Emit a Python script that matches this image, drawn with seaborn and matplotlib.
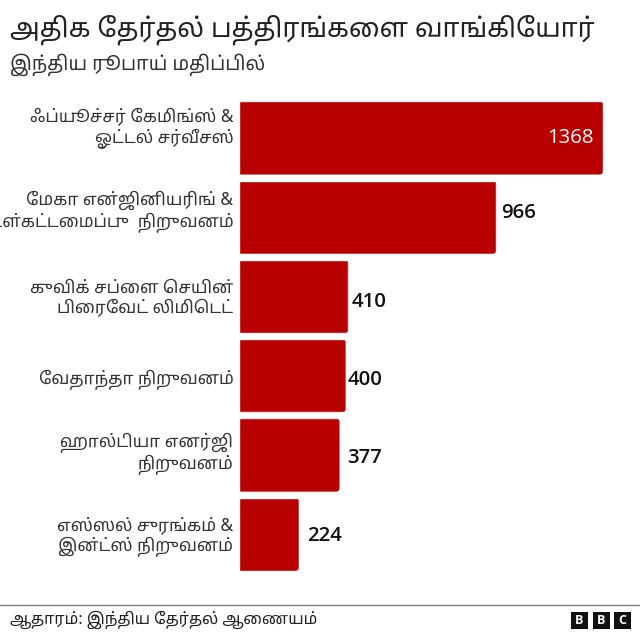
import unicodedata

import matplotlib

matplotlib.use("Agg")

import matplotlib.pyplot as plt
import pandas as pd
import seaborn as sns
from matplotlib.patches import FancyBboxPatch, Rectangle
from matplotlib.transforms import IdentityTransform

TITLE = "அதிக தேர்தல் பத்திரங்களை வாங்கியோர்"
SUBTITLE = "இந்திய ரூபாய் மதிப்பில்"
SOURCE = "ஆதாரம்: இந்திய தேர்தல் ஆணையம்"
LOGO = ["B", "B", "C"]

companies = [
    "ஃப்யூச்சர் கேமிங்ஸ் &\nஓட்டல் சர்வீசஸ்",
    "மேகா என்ஜினியரிங் &\nஉள்கட்டமைப்பு  நிறுவனம்",
    "குவிக் சப்ளை செயின்\nபிரைவேட் லிமிடெட்",
    "வேதாந்தா நிறுவனம்",
    "ஹால்டியா எனர்ஜி\nநிறுவனம்",
    "எஸ்ஸல் சுரங்கம் &\nஇன்ட்ஸ் நிறுவனம்",
]
amounts = [1368, 966, 410, 400, 377, 224]

# pixel nudges, the original labels are not evenly placed on the bars
label_dy = [10, 6, -1, -3, 2, -2]
value_dx = [-9, 5, 3, 2, 8, 8]
value_dy = [0, 4, -5, -4, -3, -2]

RED = "#b80000"
INK = "#222222"
TAMIL = ["Noto Sans Tamil", "Noto Sans"]
SIZE = 640
DPI = 100


def visual_order(text: str) -> str:
    # matplotlib does no shaping, so vowel signs drawn left of a consonant go first
    chars = list(unicodedata.normalize("NFD", text))
    for i in range(1, len(chars)):
        if chars[i] in "\u0bc6\u0bc7\u0bc8":
            chars[i - 1], chars[i] = chars[i], chars[i - 1]
    return "".join(chars)


def px(y: float) -> float:
    return 1 - y / SIZE


sns.set_theme(style="white")
plt.rcParams["font.family"] = TAMIL

df = pd.DataFrame({"company": [visual_order(c) for c in companies], "amount": amounts})

fig = plt.figure(figsize=(SIZE / DPI, SIZE / DPI), dpi=DPI)
ax = fig.add_axes([239.3 / SIZE, px(574), 400.7 / SIZE, (574 - 98.3) / SIZE])

sns.barplot(data=df, y="company", x="amount", color=RED, saturation=1, width=0.925, ax=ax)
ax.set_xlim(0, 400.7 / 0.266)
ax.set_ylim(5.5, -0.5)
ax.set_xlabel("")
ax.set_ylabel("")
ax.xaxis.set_visible(False)
ax.tick_params(axis="y", length=0, labelleft=False)
sns.despine(ax=ax, left=True, bottom=True)

fig.canvas.draw()
for i, (bar, value) in enumerate(zip(ax.patches, amounts)):
    # round the right hand corners of the bars
    box = bar.get_window_extent()
    clip = FancyBboxPatch(
        (box.x0 - 10, box.y0),
        box.width + 10,
        box.height,
        boxstyle="round,pad=0,rounding_size=4",
        transform=IdentityTransform(),
    )
    bar.set_clip_path(clip)

    mid = bar.get_y() + bar.get_height() / 2
    ax.annotate(df["company"][i], (0, mid), xytext=(-6, label_dy[i]), textcoords="offset pixels",
                ha="right", va="center", multialignment="right", color="#333333", fontsize=12.4,
                linespacing=1.16, annotation_clip=False)

    inside = value > 1000
    ax.annotate(str(value), (value, mid), xytext=(value_dx[i], value_dy[i]), textcoords="offset pixels",
                ha="right" if inside else "left", va="center", color="white" if inside else "#111111",
                fontsize=14.7, fontweight="normal" if inside else "semibold", family=["Open Sans"])

fig.text(10 / SIZE, px(30), visual_order(TITLE), fontsize=19.1, color=INK, va="center", ha="left")
fig.text(10 / SIZE, px(65), visual_order(SUBTITLE), fontsize=14, color="#333333", va="center", ha="left")
fig.text(10 / SIZE, px(620), visual_order(SOURCE), fontsize=11.5, color=INK, va="center", ha="left")

fig.add_artist(plt.Line2D([0, 1], [px(604.7), px(604.7)], color="#808080", lw=1, transform=fig.transFigure))

for x0, letter in zip([571, 592.5, 614], LOGO):
    fig.add_artist(Rectangle((x0 / SIZE, px(629)), 17 / SIZE, 17 / SIZE, color="#111111",
                             transform=fig.transFigure, lw=0))
    fig.text((x0 + 8.5) / SIZE, px(620.5), letter, color="white", fontsize=9, fontweight="bold",
             ha="center", va="center", family=["Open Sans"])

fig.savefig("out.png", dpi=DPI, facecolor="white")
